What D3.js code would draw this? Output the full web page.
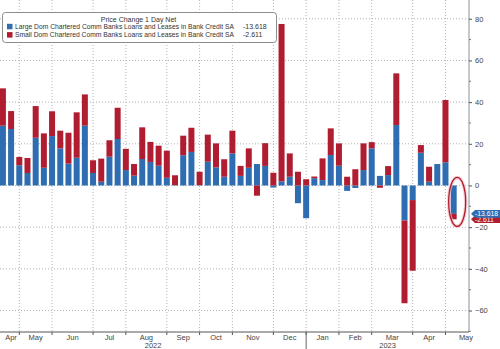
<!DOCTYPE html>
<html><head><meta charset="utf-8">
<script src="https://cdn.jsdelivr.net/npm/d3@7"></script>
<style>body{margin:0;background:#fff}svg{display:block;font-family:"Liberation Sans",Arial,sans-serif}</style>
</head><body><svg id="c" width="500" height="349"></svg>
<script>
const dates = ["2022-04-13","2022-04-20","2022-04-27","2022-05-04","2022-05-11","2022-05-18","2022-05-25",
"2022-06-01","2022-06-08","2022-06-15","2022-06-22","2022-06-29","2022-07-06","2022-07-13","2022-07-20","2022-07-27",
"2022-08-03","2022-08-10","2022-08-17","2022-08-24","2022-08-31","2022-09-07","2022-09-14","2022-09-21","2022-09-28",
"2022-10-05","2022-10-12","2022-10-19","2022-10-26","2022-11-02","2022-11-09","2022-11-16","2022-11-23","2022-11-30",
"2022-12-07","2022-12-14","2022-12-21","2022-12-28","2023-01-04","2023-01-11","2023-01-18","2023-01-25",
"2023-02-01","2023-02-08","2023-02-15","2023-02-22","2023-03-01","2023-03-08","2023-03-15","2023-03-22","2023-03-29",
"2023-04-05","2023-04-12","2023-04-19","2023-04-26","2023-05-03"];
const largeBanks = [28.7,27.1,9.7,6.0,22.9,8.5,23.7,17.8,10.5,13.3,28.7,6.0,1.8,13.8,22.3,7.4,4.7,12.7,11.3,9.5,3.7,
0.2,14.5,16.1,0.2,11.4,8.7,4.2,15.4,4.6,8.5,10.3,9.4,-1.0,2.0,4.2,-8.5,-15.7,3.5,2.6,14.6,9.5,-2.6,-1.2,7.4,17.8,
4.6,5.0,29.0,-16.8,-7.0,15.7,1.8,10.3,11.1,-13.618];
const smallBanks = [17.9,8.6,4.0,7.2,15.2,16.5,11.9,8.5,14.8,21.8,15.0,6.1,11.1,7.9,15.0,10.2,5.6,15.2,9.6,9.6,13.0,
4.7,9.4,11.6,6.4,13.0,11.5,8.4,10.9,4.8,9.3,-4.9,10.9,6.1,75.5,11.2,6.6,3.0,0.8,10.4,12.8,10.7,4.2,7.8,12.8,3.0,
-1.1,4.3,24.8,-39.7,-33.9,3.7,7.2,0.0,29.9,-2.611];
const seriesNames = ["Large Dom Chartered Comm Banks Loans and Leases in Bank Credit SA",
                     "Small Dom Chartered Comm Banks Loans and Leases in Bank Credit SA"];
const lastLabels = ["-13.618","-2.611"];
const legendTitle = "Price Change 1 Day Net";
const yTicks = [-60,-40,-20,0,20,40,60,80];
const monthNames = ["Jan","Feb","Mar","Apr","May","Jun","Jul","Aug","Sep","Oct","Nov","Dec"];
const yearLabels = ["2022","2023"];
const colors = ["#2f6db2","#b01d30"];

const svg = d3.select("#c");
const plotR = 469, plotB = 332;
const x = d3.scaleLinear().domain([-0.354, 56.87]).range([0, plotR]);
const y = d3.scaleLinear().domain([-70.3, 89]).range([plotB, 0]);
const DAY = 864e5;
const start = new Date(dates[0] + "T00:00:00Z");
const idxOf = d => (d - start) / (7 * DAY);
function lastWed(yr, m) {
  const d = new Date(Date.UTC(yr, m + 1, 0));
  while (d.getUTCDay() !== 3) d.setUTCDate(d.getUTCDate() - 1);
  return d;
}
const months = [];
for (let k = 0; k < 14; k++) { const m = 3 + k; months.push({yr: 2022 + Math.floor(m / 12), m: m % 12}); }
const monthEnd = months.map(o => x(idxOf(lastWed(o.yr, o.m))));
const prevEnd0 = x(idxOf(lastWed(2022, 2)));

// grid
const grid = svg.append("g");
grid.selectAll(".hg").data(yTicks).join("line")
  .attr("x1", 0).attr("x2", plotR).attr("y1", d => y(d)).attr("y2", d => y(d))
  .attr("stroke", "#b3b3b3").attr("stroke-dasharray", "1,2");
const tickXs = monthEnd.slice(0, 13);
grid.selectAll(".vg").data(tickXs).join("line")
  .attr("x1", d => d).attr("x2", d => d).attr("y1", 0).attr("y2", plotB)
  .attr("stroke", "#b3b3b3").attr("stroke-dasharray", "1,2");

// bars
svg.append("clipPath").attr("id", "pc").append("rect").attr("x", 0).attr("y", 0).attr("width", plotR).attr("height", plotB);
const table = dates.map((d, i) => ({large: largeBanks[i], small: smallBanks[i], i}));
const stack = d3.stack().keys(["large", "small"]).offset(d3.stackOffsetDiverging);
const layers = stack(table);
const bw = 6;
svg.append("g").attr("clip-path", "url(#pc)").selectAll("g").data(layers).join("g")
  .attr("fill", (d, k) => colors[k])
  .selectAll("rect").data(d => d).join("rect")
  .attr("x", d => x(d.data.i) - bw / 2).attr("width", bw)
  .attr("y", d => y(Math.max(d[0], d[1])))
  .attr("height", d => Math.abs(y(d[0]) - y(d[1])));

// right axis
const ax = svg.append("g").attr("transform", `translate(${plotR},0)`)
  .call(d3.axisRight(y).tickValues(yTicks).tickSize(3).tickPadding(3).tickFormat(d3.format("d")));
ax.select(".domain").attr("stroke", "#8a9099").attr("d", `M0,0V${plotB}`);
ax.selectAll(".tick line").attr("stroke", "#555");
ax.selectAll(".tick text").attr("fill", "#444").style("font-size", "7.5px").style("font-family", "Liberation Sans, Arial, sans-serif");
const minor = d3.range(-70, 90, 10).filter(v => v % 20 !== 0);
svg.append("g").selectAll("line").data(minor).join("line")
  .attr("x1", plotR).attr("x2", plotR + 2).attr("y1", d => y(d)).attr("y2", d => y(d)).attr("stroke", "#777");

// bottom axis
const bx = svg.append("g").attr("transform", `translate(0,${plotB})`);
bx.append("line").attr("x1", 0).attr("x2", plotR).attr("stroke", "#555");
bx.selectAll(".mt").data(tickXs).join("line")
  .attr("x1", d => d).attr("x2", d => d).attr("y1", 0).attr("y2", 3).attr("stroke", "#555");
const janX = x(idxOf(lastWed(2022, 11)));
bx.append("line").attr("x1", janX).attr("x2", janX).attr("y1", 0).attr("y2", 17).attr("stroke", "#666");
const labPos = months.map((o, k) => {
  const a = k === 0 ? prevEnd0 : monthEnd[k - 1];
  return Math.max((a + monthEnd[k]) / 2, 11);
});
bx.selectAll(".ml").data(months).join("text")
  .attr("x", (d, k) => labPos[k]).attr("y", 8).attr("text-anchor", "middle")
  .attr("fill", "#444").style("font-size", "7.5px").text(d => monthNames[d.m]);
bx.selectAll(".yl").data(yearLabels).join("text")
  .attr("x", (d, k) => k === 0 ? janX / 2 : (janX + plotR) / 2).attr("y", 16).attr("text-anchor", "middle")
  .attr("fill", "#444").style("font-size", "7.5px").text(d => d);

// legend
const lg = svg.append("g");
lg.append("rect").attr("x", 2.5).attr("y", 12.5).attr("width", 274).attr("height", 30).attr("rx", 3)
  .attr("fill", "#fff").attr("stroke", "#8c8c8c");
lg.append("text").attr("x", 138.5).attr("y", 21.5).attr("text-anchor", "middle").attr("fill", "#333")
  .style("font-size", "7px").text(legendTitle);
seriesNames.forEach((n, k) => {
  const yy = 23.8 + k * 8.3;
  lg.append("rect").attr("x", 7).attr("y", yy).attr("width", 5.5).attr("height", 5.5).attr("fill", colors[k]);
  lg.append("text").attr("x", 15).attr("y", yy + 5.2).attr("fill", "#333").style("font-size", "6.6px")
    .attr("textLength", 219).attr("lengthAdjust", "spacingAndGlyphs").text(n);
  lg.append("text").attr("x", 243).attr("y", yy + 5.2).attr("fill", "#333").style("font-size", "7px").text(lastLabels[k]);
});

// annotation
const li = dates.length - 1;
const lastTop = y(0), lastBot = y(largeBanks[li] + smallBanks[li]);
const ecx = x(li) + 3.5, ecy = (lastTop + lastBot) / 2 - 0.5;
svg.append("ellipse").attr("cx", ecx).attr("cy", ecy).attr("rx", 8.5).attr("ry", 24.5)
  .attr("fill", "none").attr("stroke", "#f1b9c0").attr("stroke-width", 3.5).attr("opacity", 0.7);
svg.append("ellipse").attr("cx", ecx).attr("cy", ecy).attr("rx", 8.5).attr("ry", 24.5)
  .attr("fill", "none").attr("stroke", "#b01d30").attr("stroke-width", 1.3);

// value tags
const tagY = [y(largeBanks[li]), y(largeBanks[li] + smallBanks[li])];
[1, 0].forEach(k => {
  const c = tagY[k];
  svg.append("path").attr("d", `M${plotR + 2},${c} L${plotR + 6},${c - 3.8} H500 V${c + 3.8} H${plotR + 6} Z`).attr("fill", colors[k]);
  svg.append("text").attr("x", plotR + 6).attr("y", c + 2.4).attr("fill", "#fff")
    .style("font-size", "6.8px").text(lastLabels[k]);
});
</script></body></html>
